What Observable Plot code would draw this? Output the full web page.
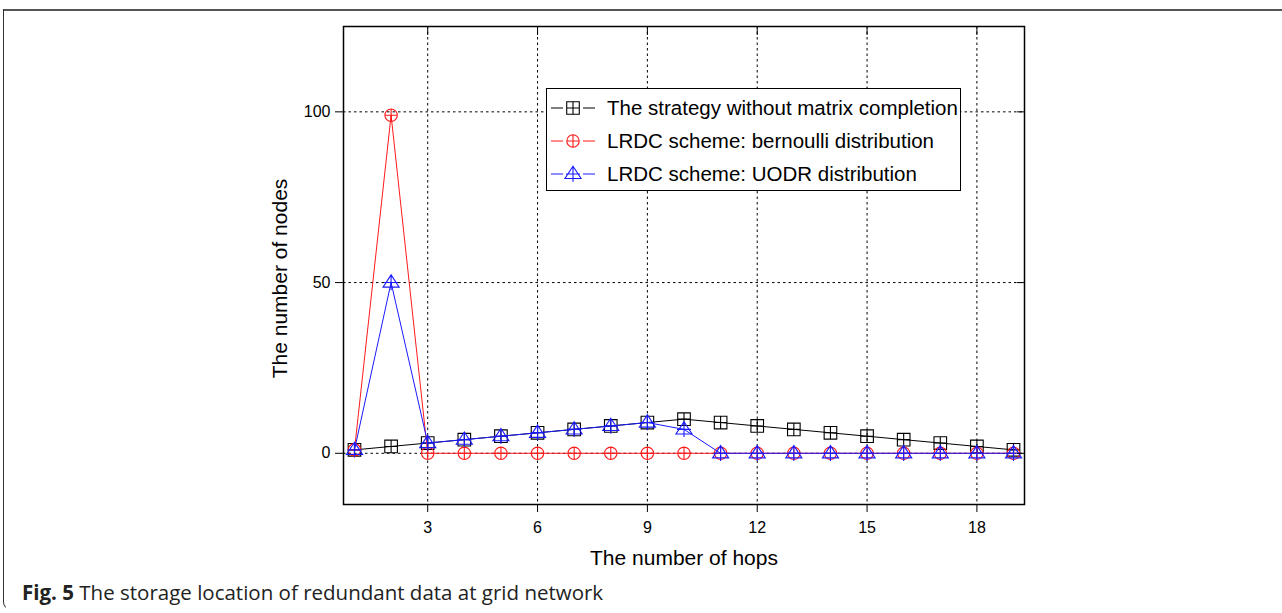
<!DOCTYPE html>
<html>
<head>
<meta charset="utf-8">
<script src="https://cdn.jsdelivr.net/npm/d3@7"></script>
<script src="https://cdn.jsdelivr.net/npm/@observablehq/plot@0.6"></script>
<style>
  html, body { margin: 0; padding: 0; background: #fff; }
  #wrap { position: relative; width: 1282px; height: 613px; overflow: hidden; font-family: "Liberation Sans", Arial, sans-serif; }
  #topline { position: absolute; left: 3px; top: 9px; width: 1279px; height: 0; border-top: 2px solid #555; }
  #leftline { position: absolute; left: 3px; top: 9px; width: 12px; height: 600px; border-left: 1.5px solid #333; border-bottom: 1px solid transparent; border-bottom-left-radius: 8px; }
  #chart { position: absolute; left: 0; top: 0; }
  #legend { position: absolute; left: 546px; top: 88px; width: 413px; height: 101px; border: 1px solid #000; background: #fff; }
  .row { position: absolute; left: 0; height: 30px; display: flex; align-items: center; font-size: 20.5px; color: #000; white-space: nowrap; }
  .row svg { display: block; margin-right: 4px; }
  #caption { position: absolute; left: 22px; top: 578px; font-family: "Open Sans", "Noto Sans", sans-serif; font-size: 20.5px; color: #222; white-space: nowrap; }
</style>
</head>
<body>
<div id="wrap">
  <div id="topline"></div>
  <div id="leftline"></div>
  <div id="chart"></div>
  <div id="legend"></div>
  <div id="caption"><b>Fig. 5</b> The storage location of redundant data at grid network</div>
</div>
<script>
// ---- data ----
const hops = [1,2,3,4,5,6,7,8,9,10,11,12,13,14,15,16,17,18,19];
const withoutMC = [1,2,3,4,5,6,7,8,9,10,9,8,7,6,5,4,3,2,1];
const bernoulli = [1,99,0,0,0,0,0,0,0,0,0,0,0,0,0,0,0,0,0];
const uodr = [1,50,3,4,5,6,7,8,9,7,0,0,0,0,0,0,0,0,0];
const seriesNames = ["The strategy without matrix completion", "LRDC scheme: bernoulli distribution", "LRDC scheme: UODR distribution"];
const xTicks = [3,6,9,12,15,18];
const yTicks = [0,50,100];
const xLabel = "The number of hops";
const yLabel = "The number of nodes";

// ---- custom marker symbols ----
const squarePlus = {draw(ctx, size) {
  const s = Math.sqrt(size / Math.PI);
  ctx.moveTo(-s, -s); ctx.lineTo(s, -s); ctx.lineTo(s, s); ctx.lineTo(-s, s); ctx.closePath();
  ctx.moveTo(0, -s); ctx.lineTo(0, s); ctx.moveTo(-s, 0); ctx.lineTo(s, 0);
}};
const circlePlus = {draw(ctx, size) {
  const s = Math.sqrt(size / Math.PI);
  ctx.moveTo(s, 0); ctx.arc(0, 0, s, 0, 2 * Math.PI);
  ctx.moveTo(0, -s); ctx.lineTo(0, s); ctx.moveTo(-s, 0); ctx.lineTo(s, 0);
}};
const trianglePlus = {draw(ctx, size) {
  const s = Math.sqrt(size / Math.PI);
  ctx.moveTo(0, -s * 1.1); ctx.lineTo(s * 1.15, s * 0.65); ctx.lineTo(-s * 1.15, s * 0.65); ctx.closePath();
  ctx.moveTo(0, -s * 1.1); ctx.lineTo(0, s * 1.1); ctx.moveTo(-s, 0); ctx.lineTo(s, 0);
}};

const colors = ["#000000", "#ff1a1a", "#1a1aff"];
const symbols = [squarePlus, circlePlus, trianglePlus];
const radii = [6.3, 6.2, 7];
const values = [withoutMC, bernoulli, uodr];

const rows = (vals) => hops.map((h, i) => ({hop: h, v: vals[i]}));

const marks = [
  Plot.ruleX(xTicks, {stroke: "#000", strokeWidth: 1, strokeDasharray: "2.5,3"}),
  Plot.ruleY(yTicks, {stroke: "#000", strokeWidth: 1, strokeDasharray: "2.5,3"}),
];
values.forEach((vals, k) => {
  const d = rows(vals);
  marks.push(Plot.line(d, {x: "hop", y: "v", stroke: colors[k], strokeWidth: 1}));
  marks.push(Plot.dot(d, {x: "hop", y: "v", symbol: symbols[k], r: radii[k], stroke: colors[k], fill: "none", strokeWidth: 1.1}));
});
marks.push(
  Plot.axisX({anchor: "bottom", ticks: xTicks, tickSize: 8, tickPadding: 9, fontSize: 16, label: null}),
  Plot.axisX({anchor: "top", ticks: xTicks, tickSize: -8, tickFormat: () => "", label: null}),
  Plot.axisY({anchor: "left", ticks: yTicks, tickSize: 8, tickPadding: 5, fontSize: 16, label: null}),
  Plot.axisY({anchor: "right", ticks: yTicks, tickSize: -8, tickFormat: () => "", label: null}),
  Plot.frame({stroke: "#000", strokeWidth: 1.5}),
  Plot.text([xLabel], {frameAnchor: "bottom", dy: 54, fontSize: 21, lineAnchor: "middle", textAnchor: "middle"}),
  Plot.text([yLabel], {frameAnchor: "left", dx: -63, dy: 13, rotate: -90, fontSize: 21, lineAnchor: "middle", textAnchor: "middle"})
);

const chart = Plot.plot({
  width: 1282,
  height: 580,
  marginLeft: 343,
  marginRight: 258,
  marginTop: 26,
  marginBottom: 76,
  style: {fontFamily: "Liberation Sans, Arial, sans-serif", color: "#000", background: "transparent", overflow: "visible"},
  x: {domain: [0.7, 19.3], axis: null},
  y: {domain: [-15, 125], axis: null},
  marks
});
document.getElementById("chart").appendChild(chart);

// ---- legend ----
const legend = document.getElementById("legend");
seriesNames.forEach((name, k) => {
  const row = document.createElement("div");
  row.className = "row";
  row.style.top = (4 + k * 33) + "px";
  const p = d3.path();
  const r = radii[k];
  symbols[k].draw(p, r * r * Math.PI);
  const svg = d3.create("svg").attr("width", 56).attr("height", 30);
  svg.append("line").attr("x1", 4).attr("x2", 16).attr("y1", 15).attr("y2", 15).attr("stroke", colors[k]);
  svg.append("line").attr("x1", 36).attr("x2", 48).attr("y1", 15).attr("y2", 15).attr("stroke", colors[k]);
  svg.append("path").attr("d", p.toString()).attr("transform", "translate(26,15)").attr("fill", "none").attr("stroke", colors[k]).attr("stroke-width", 1.1);
  row.appendChild(svg.node());
  const span = document.createElement("span");
  span.textContent = name;
  row.appendChild(span);
  legend.appendChild(row);
});
</script>
</body>
</html>
